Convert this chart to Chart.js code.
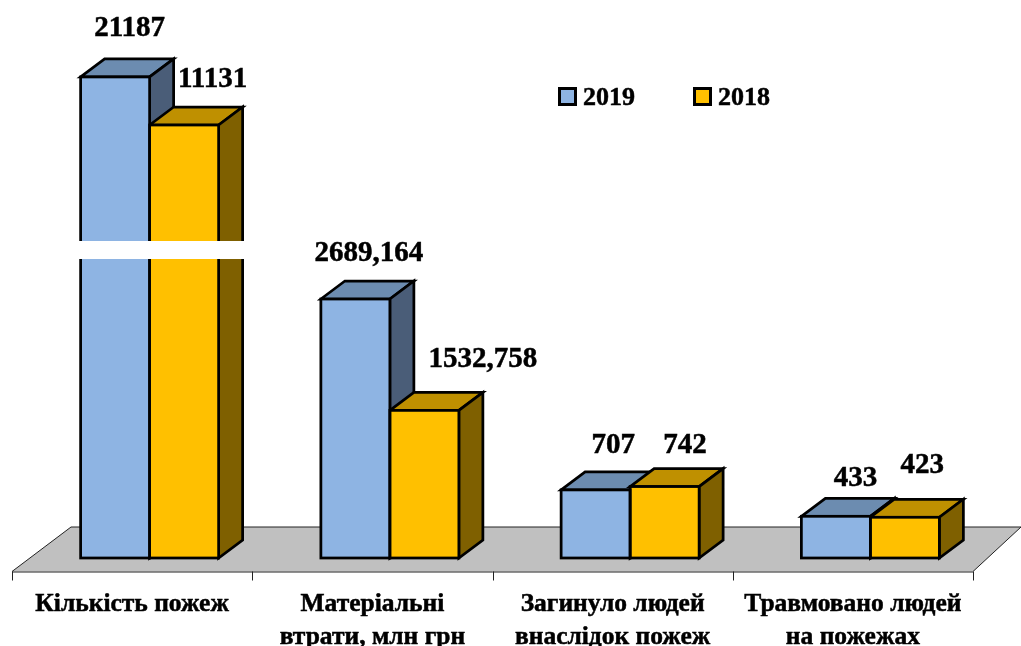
<!DOCTYPE html>
<html lang="uk">
<head>
<meta charset="utf-8">
<title>Пожежі 2019 / 2018</title>
<script src="https://cdn.jsdelivr.net/npm/chart.js@4/dist/chart.umd.min.js"></script>
<style>html,body{margin:0;padding:0;background:#fff}canvas{display:block}</style>
</head>
<body>
<canvas id="c" width="1021" height="646"></canvas>
<script>
const categories = [
  ['Кількість пожеж'],
  ['Матеріальні', 'втрати, млн грн'],
  ['Загинуло людей', 'внаслідок пожеж'],
  ['Травмовано людей', 'на пожежах']
];
const series2019 = [21187, 2689.164, 707, 433];
const series2018 = [11131, 1532.758, 742, 423];
const seriesNames = ['2019', '2018'];

// The reference has a broken value axis: values above the break are compressed.
const breakValues = [0, 2689.164, 11131, 21187];
const breakPlotted = [0, 2689.164, 4496, 4995];

// Hand placement of the value labels, relative to the top-centre of each bar
const labelShift2019 = [[15, -48], [14, -46], [18, -44], [20, -38]];
const labelShift2018 = [[29, -45], [59, -51], [21, -41], [18, -52]];

const DEPTH_X = 24, DEPTH_Y = 18;
const FRONT_SHIFT = 17.5;
const SERIF = '"Liberation Serif", "Times New Roman", serif';
const faces = [
  { front: '#8EB4E3', top: '#6C8CB0', side: '#4A5D78' },
  { front: '#FFC000', top: '#BF9000', side: '#7F6000' }
];

function compress(v) {
  for (let i = 1; i < breakValues.length; i++) {
    if (v <= breakValues[i]) {
      const t = (v - breakValues[i - 1]) / (breakValues[i] - breakValues[i - 1]);
      return breakPlotted[i - 1] + t * (breakPlotted[i] - breakPlotted[i - 1]);
    }
  }
  return v;
}

class BrokenLinearScale extends Chart.LinearScale {
  getPixelForValue(value) {
    return value === null ? NaN : super.getPixelForValue(compress(value));
  }
}
BrokenLinearScale.id = 'brokenLinear';
BrokenLinearScale.defaults = Chart.LinearScale.defaults;
Chart.register(BrokenLinearScale);

function poly(ctx, pts, fill, stroke, lw) {
  ctx.beginPath();
  pts.forEach((p, i) => i ? ctx.lineTo(p[0], p[1]) : ctx.moveTo(p[0], p[1]));
  ctx.closePath();
  if (fill) { ctx.fillStyle = fill; ctx.fill(); }
  if (stroke) { ctx.strokeStyle = stroke; ctx.lineWidth = lw; ctx.stroke(); }
}

function heavyText(ctx, text, x, y) {
  ctx.fillText(text, x, y);
  ctx.strokeStyle = '#000';
  ctx.lineWidth = 0.5;
  ctx.strokeText(text, x, y);
}

const scene3d = {
  id: 'scene3d',
  beforeDatasetsDraw(chart) {
    const { ctx, chartArea: a, scales: { x } } = chart;
    const catW = x.width / categories.length;
    const fl = x.left - FRONT_SHIFT, fr = x.right - FRONT_SHIFT, fy = a.bottom + 13.5, by = a.bottom - 31;
    ctx.save();
    // floor
    poly(ctx, [[fl, fy], [fr, fy], [1021, by], [fl + 59, by]], '#C0C0C0', null, 0);
    ctx.strokeStyle = '#222';
    ctx.lineWidth = 1;
    ctx.beginPath();
    ctx.moveTo(fl, fy); ctx.lineTo(fl + 59, by); ctx.lineTo(1021, by);
    ctx.moveTo(fr, fy); ctx.lineTo(1021, by);
    ctx.stroke();
    // axis with ticks between categories
    ctx.beginPath();
    ctx.moveTo(fl, fy + 0.5); ctx.lineTo(fr, fy + 0.5);
    for (let i = 0; i <= categories.length; i++) {
      const tx = Math.round(fl + i * catW) + 0.5;
      ctx.moveTo(tx, fy); ctx.lineTo(tx, fy + 9);
    }
    ctx.stroke();
    // top and side faces of the bars
    ctx.lineJoin = 'miter';
    chart.data.datasets.forEach((ds, d) => {
      chart.getDatasetMeta(d).data.forEach(bar => {
        const l = bar.x - bar.width / 2, r = bar.x + bar.width / 2, t = bar.y, b = bar.base;
        poly(ctx, [[l, t], [r, t], [r + DEPTH_X, t - DEPTH_Y], [l + DEPTH_X, t - DEPTH_Y]], faces[d].top, '#000', 2.75);
        poly(ctx, [[r, t], [r + DEPTH_X, t - DEPTH_Y], [r + DEPTH_X, b - DEPTH_Y], [r, b]], faces[d].side, '#000', 2.75);
      });
    });
    ctx.restore();
  },
  afterDatasetsDraw(chart) {
    const { ctx } = chart;
    ctx.save();
    // outlines of the front faces, centred on the bar edges
    ctx.strokeStyle = '#000';
    ctx.lineWidth = 2.75;
    chart.data.datasets.forEach((ds, d) => {
      chart.getDatasetMeta(d).data.forEach(bar => {
        ctx.strokeRect(bar.x - bar.width / 2, bar.y, bar.width, bar.base - bar.y);
      });
    });
    // white gap marking the axis break
    const first = chart.getDatasetMeta(0).data[0], second = chart.getDatasetMeta(1).data[0];
    ctx.fillStyle = '#fff';
    ctx.fillRect(first.x - first.width / 2 - 3, 241, second.x + second.width / 2 + DEPTH_X + 5 - (first.x - first.width / 2 - 3), 18);
    // value labels
    ctx.fillStyle = '#000';
    ctx.font = 'bold 29px ' + SERIF;
    ctx.textAlign = 'center';
    ctx.textBaseline = 'middle';
    const shifts = [labelShift2019, labelShift2018];
    chart.data.datasets.forEach((ds, d) => {
      chart.getDatasetMeta(d).data.forEach((bar, i) => {
        heavyText(ctx, String(ds.data[i]).replace('.', ','), bar.x + shifts[d][i][0] - 0.5, bar.y + shifts[d][i][1]);
      });
    });
    // legend
    const legendX = [558, 693];
    ctx.font = 'bold 26px ' + SERIF;
    ctx.textAlign = 'left';
    chart.data.datasets.forEach((ds, d) => {
      ctx.fillStyle = ds.backgroundColor;
      ctx.strokeStyle = '#000';
      ctx.lineWidth = 3;
      ctx.fillRect(legendX[d] + 1.5, 88.5, 16, 16);
      ctx.strokeRect(legendX[d] + 1.5, 88.5, 16, 16);
      ctx.fillStyle = '#000';
      heavyText(ctx, ds.label, legendX[d] + 25, 98.5);
    });
    ctx.restore();
  }
};

new Chart(document.getElementById('c'), {
  type: 'bar',
  data: {
    labels: categories,
    datasets: [
      { label: seriesNames[0], data: series2019, backgroundColor: faces[0].front, borderWidth: 0 },
      { label: seriesNames[1], data: series2018, backgroundColor: faces[1].front, borderWidth: 0 }
    ]
  },
  options: {
    responsive: false,
    animation: false,
    layout: { padding: { left: 29.5, right: 30.5, top: 0, bottom: 0 } },
    datasets: { bar: { categoryPercentage: 0.5744, barPercentage: 1 } },
    plugins: { legend: { display: false }, tooltip: { enabled: false } },
    scales: {
      x: {
        grid: { display: false },
        border: { display: false },
        afterFit(scale) { scale.height = 88; },
        ticks: {
          autoSkip: false,
          maxRotation: 0,
          minRotation: 0,
          labelOffset: -FRONT_SHIFT,
          padding: 22,
          color: '#000',
          textStrokeColor: '#000',
          textStrokeWidth: 0.5,
          font: { family: SERIF, size: 25.5, weight: 'bold', lineHeight: 1.28 }
        }
      },
      y: { type: 'brokenLinear', display: false, min: 0, max: 5794 }
    }
  },
  plugins: [scene3d]
});
</script>
</body>
</html>
